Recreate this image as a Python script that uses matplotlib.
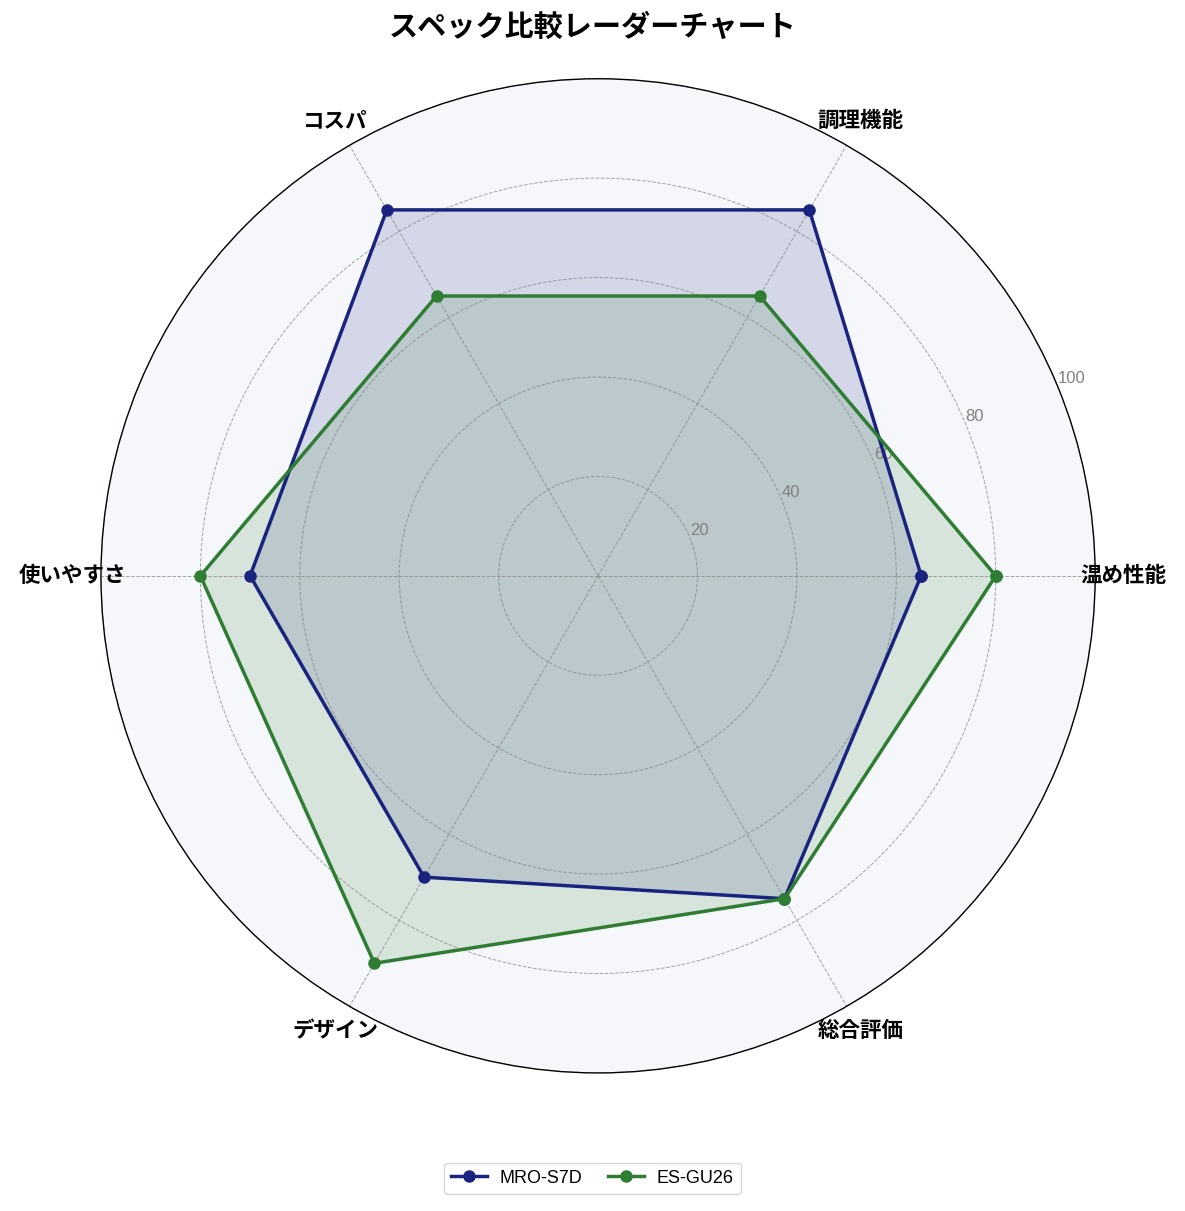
import numpy as np
import matplotlib
matplotlib.use('Agg')
from matplotlib import pyplot as plt

plt.rcParams['font.family'] = ['Noto Sans CJK JP', 'DejaVu Sans']

categories = ['温め性能', '調理機能', 'コスパ', '使いやすさ', 'デザイン', '総合評価']
mro_s7d = [65, 85, 85, 70, 70, 75]
es_gu26 = [80, 65, 65, 80, 90, 75]
series_names = ['MRO-S7D', 'ES-GU26']
r_ticks = [20, 40, 60, 80, 100]

colors = ['#1a237e', '#2e7d32']

n = len(categories)
angles = np.linspace(0, 2 * np.pi, n, endpoint=False).tolist()
angles_closed = angles + angles[:1]

fig = plt.figure(figsize=(11.85, 12.11), dpi=100)
ax = fig.add_axes([0.0852, 0.114, 0.839, 0.821], polar=True)
ax.set_facecolor('#f5f7fa')

for vals, name, c in zip([mro_s7d, es_gu26], series_names, colors):
    v = vals + vals[:1]
    ax.plot(angles_closed, v, color=c, linewidth=2.5, marker='o', markersize=8, label=name)
    ax.fill(angles_closed, v, color=c, alpha=0.15)

ax.set_ylim(0, 100)
ax.set_yticks(r_ticks)
ax.set_yticklabels([str(t) for t in r_ticks], color='gray', fontsize=12,
                   family=['Liberation Sans', 'DejaVu Sans'])
ax.set_rlabel_position(22.5)
ax.set_xticks(angles)
ax.set_xticklabels(categories, fontsize=15.5, fontweight='bold')
ax.tick_params(axis='x', pad=10)
ax.grid(True, color='gray', linestyle='--', linewidth=0.7, alpha=0.7)
ax.spines['polar'].set_color('black')
ax.spines['polar'].set_linewidth(1.0)

fig.suptitle('スペック比較レーダーチャート', fontsize=21, fontweight='bold', y=0.99)
fig.legend(loc='center', bbox_to_anchor=(0.5, 0.027), ncol=2,
           prop={'family': ['Liberation Sans', 'DejaVu Sans'], 'size': 13},
           columnspacing=1.4, handletextpad=0.7)

plt.savefig('out.png', dpi=100)
